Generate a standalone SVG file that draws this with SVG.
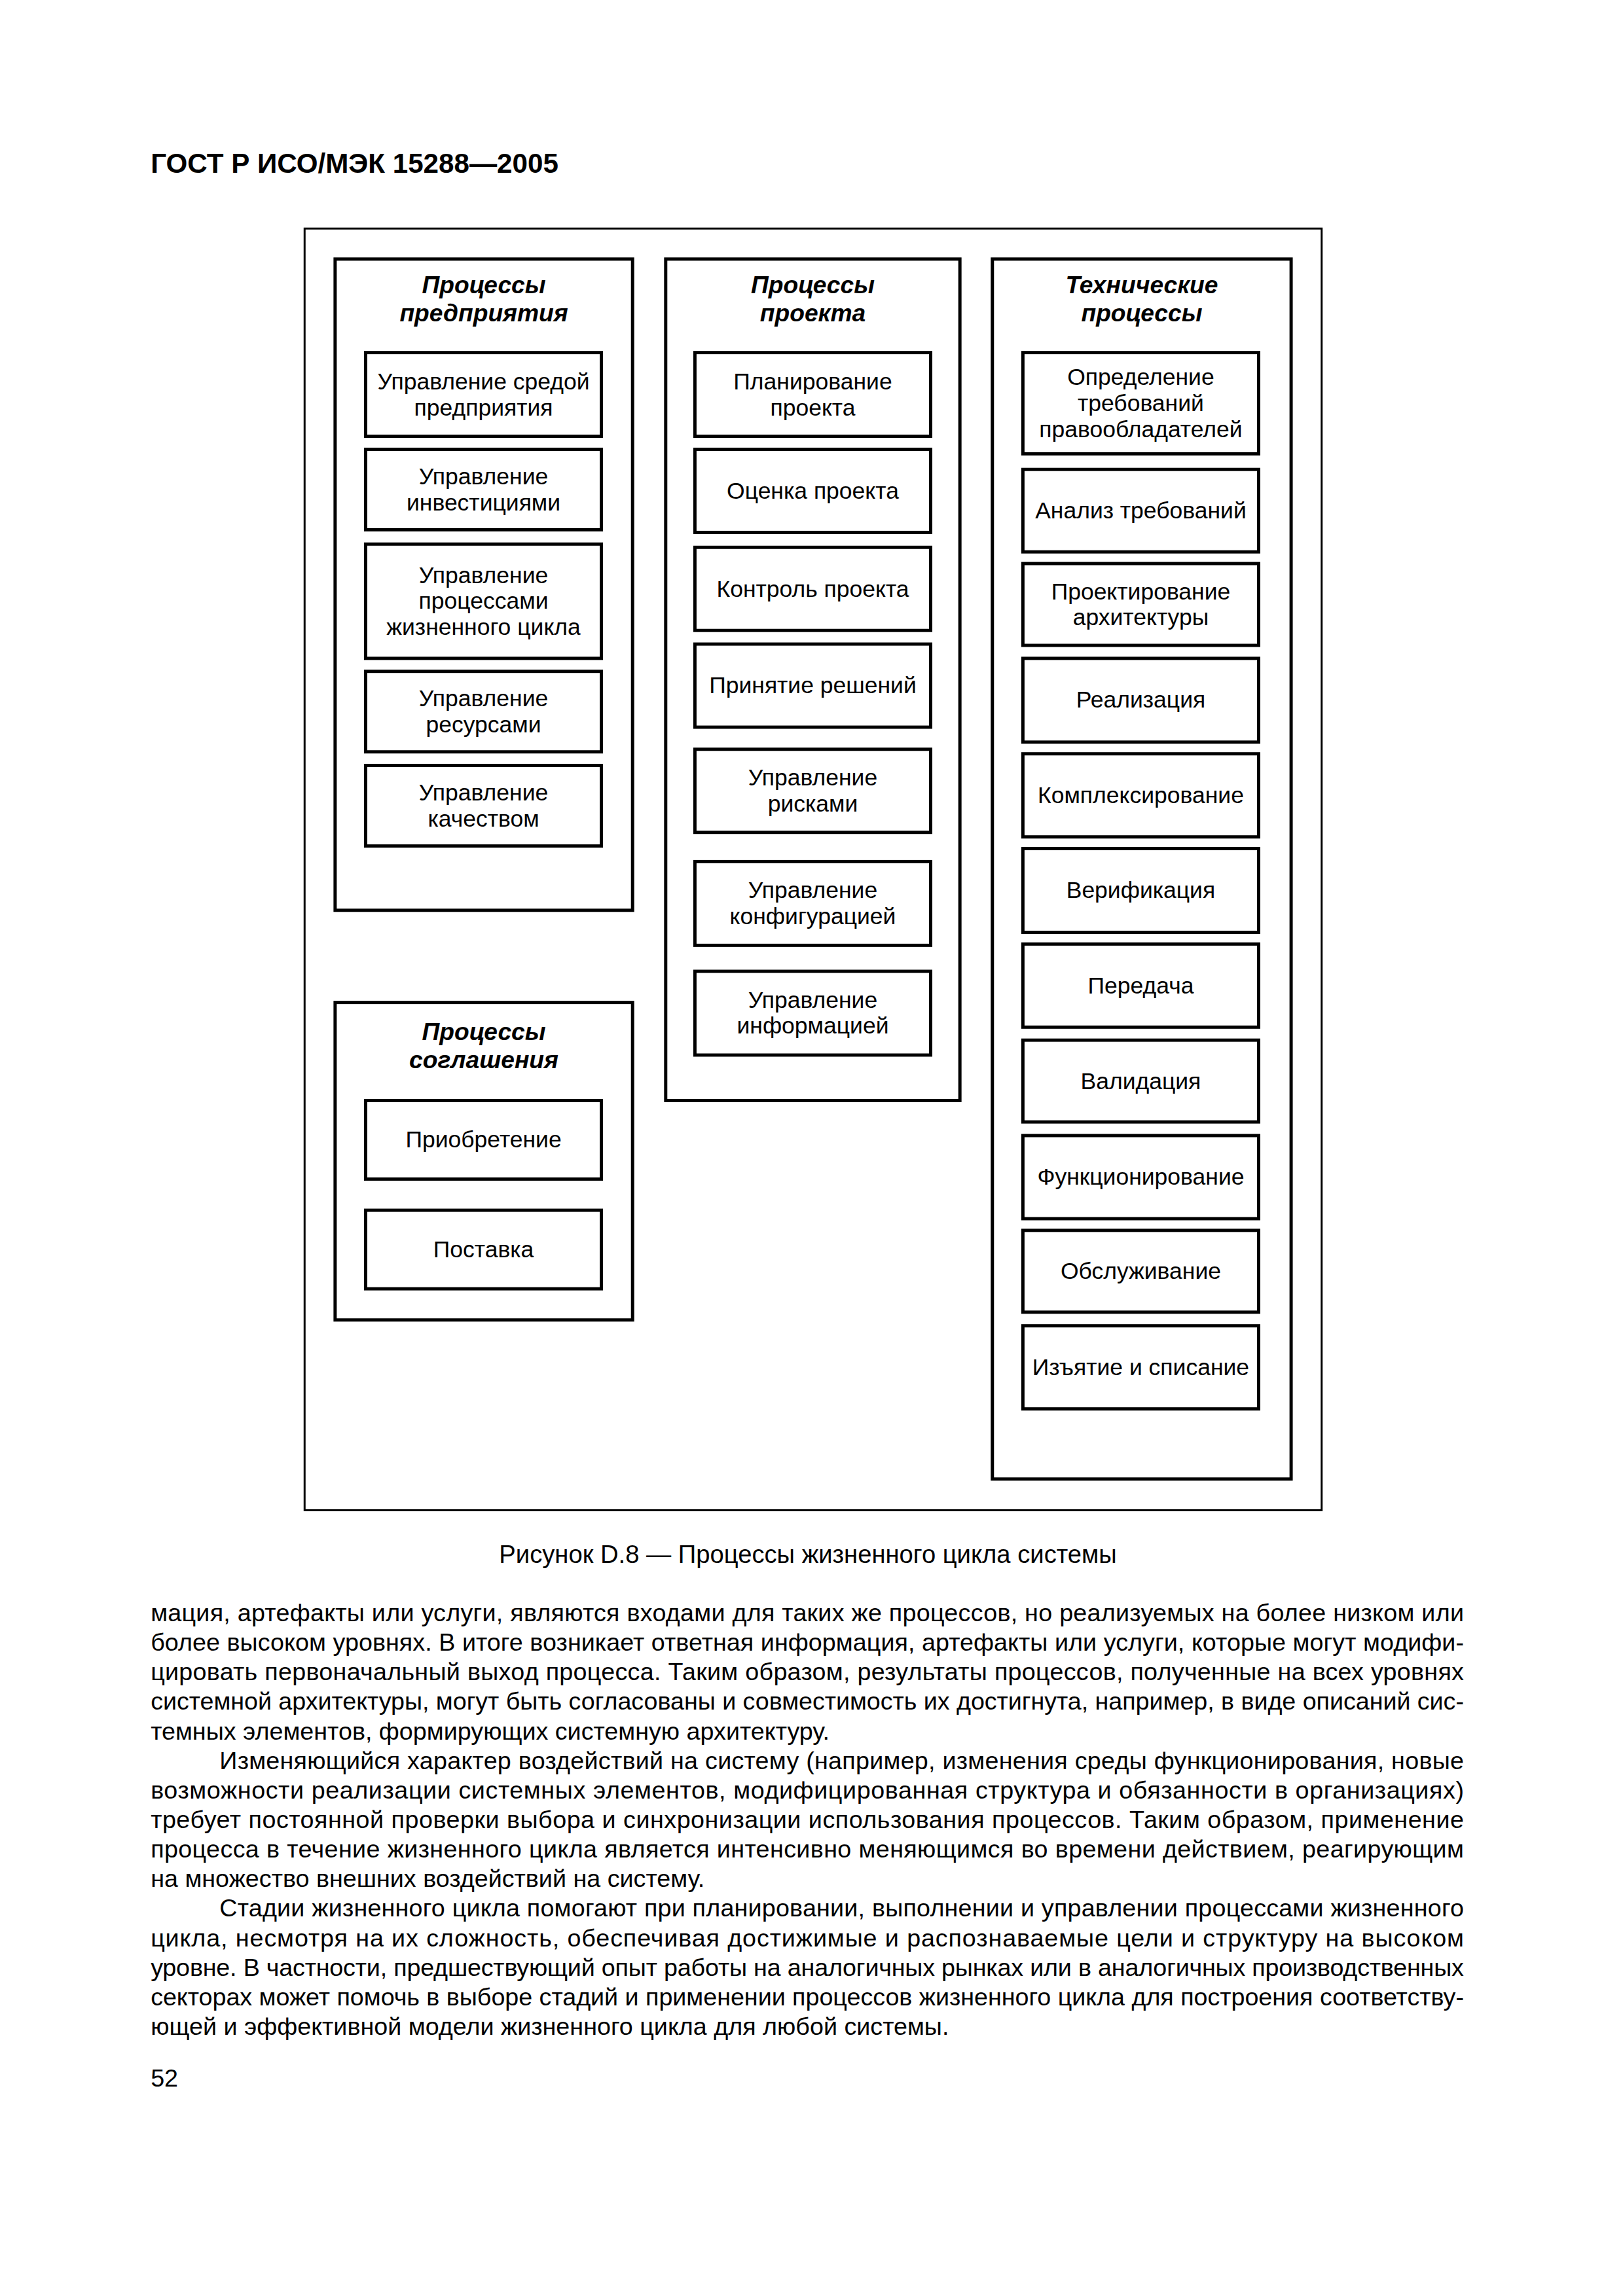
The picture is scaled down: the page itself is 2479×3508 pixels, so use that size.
<svg xmlns="http://www.w3.org/2000/svg" width="2479" height="3508" viewBox="0 0 2479 3508">
<style>
text{font-family:"Liberation Sans",Arial,sans-serif;fill:#000}
.hdr{font-size:42.5px;font-weight:bold}
.frame{fill:none;stroke:#000;stroke-width:3}
.grp{fill:none;stroke:#000;stroke-width:5}
.item{fill:#fff;stroke:#000;stroke-width:5}
.gt{font-size:37.5px;font-weight:bold;font-style:italic;text-anchor:middle}
.it{font-size:35.8px;text-anchor:middle}
.cap{font-size:38.5px;text-anchor:middle}
.body{font-size:38px}
</style>
<rect width="2479" height="3508" fill="#fff"/>
<g transform="scale(0.992)">
<text class="hdr" x="232" y="266">ГОСТ Р ИСО/МЭК 15288—2005</text>
<rect class="frame" x="469" y="352" width="1566" height="1974"/>

<g id="enterprise">
<rect class="grp" x="516" y="399" width="458" height="1003"/>
<text class="gt" x="745" y="452">Процессы</text>
<text class="gt" x="745" y="495">предприятия</text>
<g id="e1"><rect class="item" x="563" y="543" width="363" height="129"/><text class="it" x="744.5" y="600">Управление средой</text><text class="it" x="744.5" y="640">предприятия</text></g>
<g id="e2"><rect class="item" x="563" y="692" width="363" height="124"/><text class="it" x="744.5" y="746">Управление</text><text class="it" x="744.5" y="786">инвестициями</text></g>
<g id="e3"><rect class="item" x="563" y="838" width="363" height="176"/><text class="it" x="744.5" y="898">Управление</text><text class="it" x="744.5" y="938">процессами</text><text class="it" x="744.5" y="978">жизненного цикла</text></g>
<g id="e4"><rect class="item" x="563" y="1034" width="363" height="124"/><text class="it" x="744.5" y="1088">Управление</text><text class="it" x="744.5" y="1128">ресурсами</text></g>
<g id="e5"><rect class="item" x="563" y="1179" width="363" height="124"/><text class="it" x="744.5" y="1233">Управление</text><text class="it" x="744.5" y="1273">качеством</text></g>
</g>

<g id="agreement">
<rect class="grp" x="516" y="1544" width="458" height="489"/>
<text class="gt" x="745" y="1602">Процессы</text>
<text class="gt" x="745" y="1645">соглашения</text>
<g id="a1"><rect class="item" x="563" y="1695" width="363" height="121"/><text class="it" x="744.5" y="1767">Приобретение</text></g>
<g id="a2"><rect class="item" x="563" y="1864" width="363" height="121"/><text class="it" x="744.5" y="1936">Поставка</text></g>
</g>

<g id="project">
<rect class="grp" x="1025" y="399" width="453" height="1296"/>
<text class="gt" x="1251.5" y="452">Процессы</text>
<text class="gt" x="1251.5" y="495">проекта</text>
<g id="p1"><rect class="item" x="1070" y="543" width="363" height="129"/><text class="it" x="1251.5" y="600">Планирование</text><text class="it" x="1251.5" y="640">проекта</text></g>
<g id="p2"><rect class="item" x="1070" y="692" width="363" height="128"/><text class="it" x="1251.5" y="768">Оценка проекта</text></g>
<g id="p3"><rect class="item" x="1070" y="843" width="363" height="128"/><text class="it" x="1251.5" y="919">Контроль проекта</text></g>
<g id="p4"><rect class="item" x="1070" y="992" width="363" height="128"/><text class="it" x="1251.5" y="1068">Принятие решений</text></g>
<g id="p5"><rect class="item" x="1070" y="1154" width="363" height="128"/><text class="it" x="1251.5" y="1210">Управление</text><text class="it" x="1251.5" y="1250">рисками</text></g>
<g id="p6"><rect class="item" x="1070" y="1327" width="363" height="129"/><text class="it" x="1251.5" y="1383">Управление</text><text class="it" x="1251.5" y="1423">конфигурацией</text></g>
<g id="p7"><rect class="item" x="1070" y="1496" width="363" height="129"/><text class="it" x="1251.5" y="1552">Управление</text><text class="it" x="1251.5" y="1592">информацией</text></g>
</g>

<g id="technical">
<rect class="grp" x="1528" y="399" width="460" height="1879"/>
<text class="gt" x="1758" y="452">Технические</text>
<text class="gt" x="1758" y="495">процессы</text>
<g id="t1"><rect class="item" x="1575" y="543" width="363" height="156"/><text class="it" x="1756.5" y="593">Определение</text><text class="it" x="1756.5" y="633">требований</text><text class="it" x="1756.5" y="673">правообладателей</text></g>
<g id="t2"><rect class="item" x="1575" y="723" width="363" height="127"/><text class="it" x="1756.5" y="798">Анализ требований</text></g>
<g id="t3"><rect class="item" x="1575" y="868" width="363" height="126"/><text class="it" x="1756.5" y="923">Проектирование</text><text class="it" x="1756.5" y="963">архитектуры</text></g>
<g id="t4"><rect class="item" x="1575" y="1014" width="363" height="129"/><text class="it" x="1756.5" y="1090">Реализация</text></g>
<g id="t5"><rect class="item" x="1575" y="1161" width="363" height="128"/><text class="it" x="1756.5" y="1237">Комплексирование</text></g>
<g id="t6"><rect class="item" x="1575" y="1307" width="363" height="129"/><text class="it" x="1756.5" y="1383">Верификация</text></g>
<g id="t7"><rect class="item" x="1575" y="1454" width="363" height="128"/><text class="it" x="1756.5" y="1530">Передача</text></g>
<g id="t8"><rect class="item" x="1575" y="1602" width="363" height="126"/><text class="it" x="1756.5" y="1677">Валидация</text></g>
<g id="t9"><rect class="item" x="1575" y="1749" width="363" height="128"/><text class="it" x="1756.5" y="1825">Функционирование</text></g>
<g id="t10"><rect class="item" x="1575" y="1895" width="363" height="126"/><text class="it" x="1756.5" y="1970">Обслуживание</text></g>
<g id="t11"><rect class="item" x="1575" y="2042" width="363" height="128"/><text class="it" x="1756.5" y="2118">Изъятие и списание</text></g>
</g>

<g id="connectors"></g>

<text class="cap" x="1244" y="2407">Рисунок D.8 — Процессы жизненного цикла системы</text>

<g id="bodytext">
<text class="body" x="232" y="2497" textLength="2022" lengthAdjust="spacing">мация, артефакты или услуги, являются входами для таких же процессов, но реализуемых на более низком или</text>
<text class="body" x="232" y="2542.5" textLength="2022" lengthAdjust="spacing">более высоком уровнях. В итоге возникает ответная информация, артефакты или услуги, которые могут модифи-</text>
<text class="body" x="232" y="2588" textLength="2022" lengthAdjust="spacing">цировать первоначальный выход процесса. Таким образом, результаты процессов, полученные на всех уровнях</text>
<text class="body" x="232" y="2633.5" textLength="2022" lengthAdjust="spacing">системной архитектуры, могут быть согласованы и совместимость их достигнута, например, в виде описаний сис-</text>
<text class="body" x="232" y="2679">темных элементов, формирующих системную архитектуру.</text>
<text class="body" x="338" y="2724.5" textLength="1916" lengthAdjust="spacing">Изменяющийся характер воздействий на систему (например, изменения среды функционирования, новые</text>
<text class="body" x="232" y="2770" textLength="2022" lengthAdjust="spacing">возможности реализации системных элементов, модифицированная структура и обязанности в организациях)</text>
<text class="body" x="232" y="2815.5" textLength="2022" lengthAdjust="spacing">требует постоянной проверки выбора и синхронизации использования процессов. Таким образом, применение</text>
<text class="body" x="232" y="2861" textLength="2022" lengthAdjust="spacing">процесса в течение жизненного цикла является интенсивно меняющимся во времени действием, реагирующим</text>
<text class="body" x="232" y="2906.5">на множество внешних воздействий на систему.</text>
<text class="body" x="338" y="2952" textLength="1916" lengthAdjust="spacing">Стадии жизненного цикла помогают при планировании, выполнении и управлении процессами жизненного</text>
<text class="body" x="232" y="2997.5" textLength="2022" lengthAdjust="spacing">цикла, несмотря на их сложность, обеспечивая достижимые и распознаваемые цели и структуру на высоком</text>
<text class="body" x="232" y="3043" textLength="2022" lengthAdjust="spacing">уровне. В частности, предшествующий опыт работы на аналогичных рынках или в аналогичных производственных</text>
<text class="body" x="232" y="3088.5" textLength="2022" lengthAdjust="spacing">секторах может помочь в выборе стадий и применении процессов жизненного цикла для построения соответству-</text>
<text class="body" x="232" y="3134">ющей и эффективной модели жизненного цикла для любой системы.</text>
</g>
<text class="body" x="232" y="3214">52</text>
</g>
</svg>
